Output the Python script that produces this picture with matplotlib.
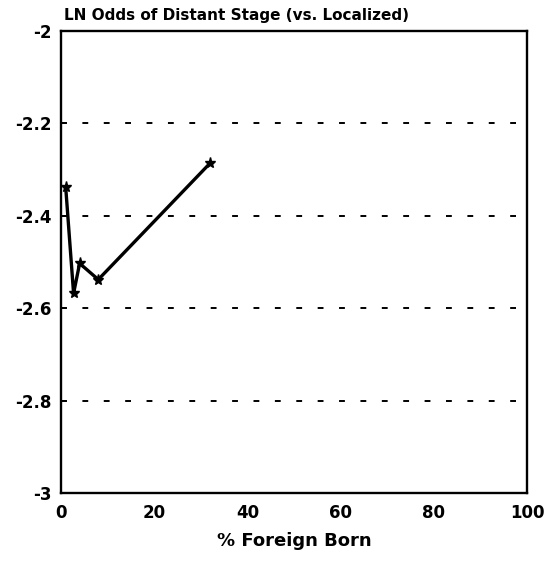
import matplotlib
matplotlib.use("Agg")
import matplotlib.pyplot as plt

pct_foreign = [1, 2.7, 4, 8, 32]
ln_odds = [-2.337, -2.568, -2.503, -2.538, -2.286]
x_ticks = [0, 20, 40, 60, 80, 100]
y_ticks = [-3, -2.8, -2.6, -2.4, -2.2, -2]
y_labels = ["-3", "-2.8", "-2.6", "-2.4", "-2.2", "-2"]

plt.rcParams['font.family'] = ['DejaVu Sans']
fig = plt.figure(figsize=(5.53, 5.63), dpi=100)
ax = fig.add_axes([61/553, 1 - 493/563, (527-61)/553, (493-31)/563])

ax.plot(pct_foreign, ln_odds, color='black', lw=2.4, marker='*', ms=8, mfc='black', mec='black')
ax.set_xlim(0, 100)
ax.set_ylim(-3, -2)
ax.set_xticks(x_ticks)
ax.set_yticks(y_ticks)
ax.set_yticklabels(y_labels)
for y in y_ticks[1:-1]:
    ax.axhline(y, color='black', lw=1.4, ls=(0, (3, 8)), zorder=0)
for s in ax.spines.values():
    s.set_linewidth(1.7)
ax.tick_params(axis='y', direction='in', length=4, width=1.2, labelsize=12, pad=7)
ax.tick_params(axis='x', direction='in', length=0, labelsize=12, pad=8)
for lab in ax.get_xticklabels() + ax.get_yticklabels():
    lab.set_fontweight('heavy')
ax.set_xlabel('% Foreign Born', fontsize=13, fontweight='heavy', labelpad=7)
fig.text(64/553, 1 - 20/563, 'LN Odds of Distant Stage (vs. Localized)', fontsize=11,
         fontweight='heavy', ha='left', va='baseline')
fig.savefig('out.png', dpi=100)
